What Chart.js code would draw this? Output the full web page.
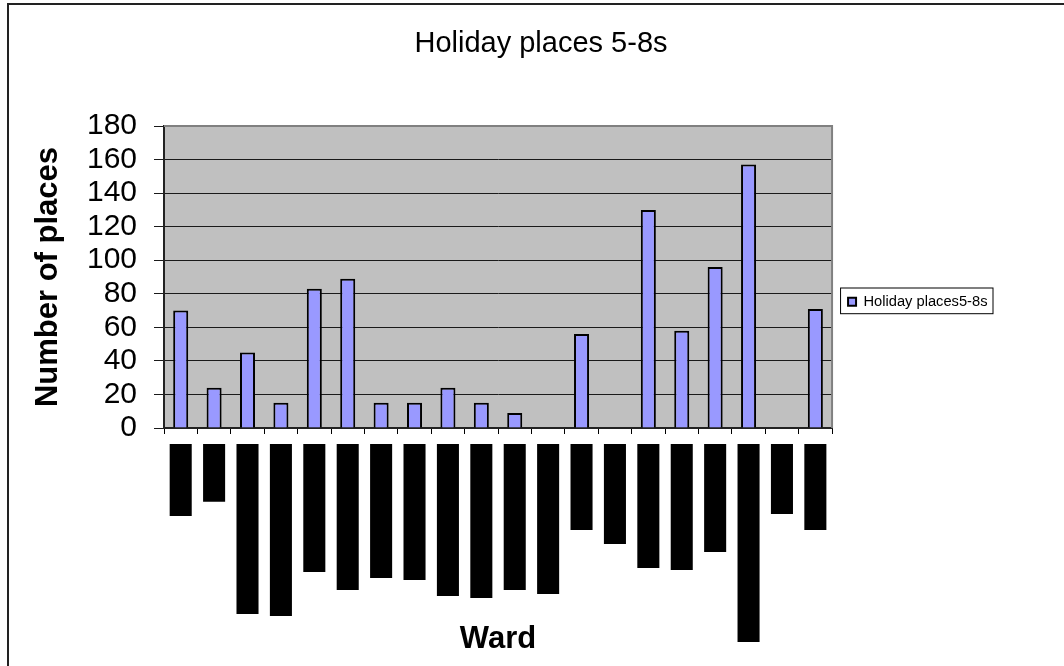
<!DOCTYPE html>
<html>
<head>
<meta charset="utf-8">
<title>Holiday places 5-8s</title>
<script src="https://cdn.jsdelivr.net/npm/chart.js@4.4.0/dist/chart.umd.min.js"></script>
<style>
  html, body { margin: 0; padding: 0; background: #fff; }
  #wrap { width: 1064px; height: 666px; }
</style>
</head>
<body>
<div id="wrap"><canvas id="holidayChart" width="1064" height="666"></canvas></div>
<script>
// categories (ward names are unreadable in the source, they show as black blocks)
const wards = ['Ward 1', 'Ward 2', 'Ward 3', 'Ward 4', 'Ward 5', 'Ward 6', 'Ward 7', 'Ward 8', 'Ward 9', 'Ward 10',
               'Ward 11', 'Ward 12', 'Ward 13', 'Ward 14', 'Ward 15', 'Ward 16', 'Ward 17', 'Ward 18', 'Ward 19', 'Ward 20'];
const holidayPlaces = [70, 24, 45, 15, 83, 89, 15, 15, 24, 15, 9, 0, 56, 0, 130, 58, 96, 157, 0, 71];
const yTicks = [0, 20, 40, 60, 80, 100, 120, 140, 160, 180];

// depth of the blacked-out ward labels under the axis, in axis units
const labelGap = 9.5;
const labelDepth = [52.4, 43.9, 110.9, 112.1, 85.8, 96.6, 89.4, 90.6, 100.1, 101.3,
                    96.6, 98.9, 60.8, 69.1, 83.4, 84.6, 73.9, 127.5, 51.3, 60.8];

const fontFamily = "'Liberation Sans', Arial, Helvetica, sans-serif";

const framePlugin = {
    id: 'frame',
    beforeDraw(chart) {
        const ctx = chart.ctx;
        const area = chart.chartArea;
        ctx.save();
        ctx.fillStyle = '#ffffff';
        ctx.fillRect(0, 0, chart.width, chart.height);
        // outer frame
        ctx.strokeStyle = '#222';
        ctx.lineWidth = 2;
        ctx.beginPath();
        ctx.moveTo(8, chart.height);
        ctx.lineTo(8, 4);
        ctx.lineTo(chart.width, 4);
        ctx.stroke();
        // plot background
        ctx.fillStyle = '#c0c0c0';
        ctx.fillRect(area.left, area.top, area.right - area.left, area.bottom - area.top);
        ctx.restore();
    },
    beforeDatasetsDraw(chart) {
        const ctx = chart.ctx;
        const area = chart.chartArea;
        ctx.save();
        ctx.strokeStyle = '#808080';
        ctx.lineWidth = 2;
        ctx.beginPath();
        ctx.moveTo(area.left, area.top);
        ctx.lineTo(area.right, area.top);
        ctx.lineTo(area.right, area.bottom);
        ctx.stroke();
        ctx.restore();
    },
    afterDraw(chart) {
        const box = chart.legend.legendHitBoxes[0];
        if (!box) return;
        const ctx = chart.ctx;
        ctx.save();
        ctx.strokeStyle = '#000';
        ctx.lineWidth = 1;
        ctx.strokeRect(box.left - 7.5, box.top - 6.5, box.width + 13, box.height + 11);
        ctx.restore();
    }
};

const ctx = document.getElementById('holidayChart').getContext('2d');

const holidayChart = new Chart(ctx, {
    type: 'bar',
    data: {
        labels: wards,
        datasets: [{
            label: 'Holiday places5-8s',
            data: holidayPlaces,
            backgroundColor: '#9999ff',
            borderColor: '#000000',
            borderWidth: 2,
            barPercentage: 0.45,
            categoryPercentage: 1,
            grouped: false
        }, {
            label: 'Ward labels',
            data: labelDepth.map(d => [-labelGap, -d]),
            backgroundColor: '#000000',
            borderWidth: 0,
            barPercentage: 0.66,
            categoryPercentage: 1,
            grouped: false,
            clip: false
        }]
    },
    options: {
        responsive: false,
        animation: false,
        devicePixelRatio: 1,
        layout: {
            padding: { left: 84.5, right: 66.5, top: 0, bottom: 0 }
        },
        scales: {
            x: {
                offset: true,
                grid: {
                    offset: true,
                    drawOnChartArea: false,
                    drawTicks: true,
                    tickLength: 6,
                    color: '#000',
                    lineWidth: 1
                },
                border: { color: '#222', width: 2 },
                ticks: { display: false },
                title: {
                    display: true,
                    text: 'Ward',
                    color: '#000',
                    font: { family: fontFamily, size: 31, weight: 'bold' },
                    padding: { top: 0, bottom: 8 }
                },
                afterFit: function (scale) {
                    scale.height = 238;
                }
            },
            y: {
                min: 0,
                max: 180,
                afterBuildTicks: function (scale) {
                    scale.ticks = yTicks.map(v => ({ value: v }));
                },
                ticks: {
                    autoSkip: false,
                    color: '#000',
                    padding: 17,
                    font: { family: fontFamily, size: 30 }
                },
                grid: {
                    color: '#1a1a1a',
                    lineWidth: 1,
                    tickLength: 10
                },
                border: { color: '#222', width: 2 },
                title: {
                    display: true,
                    text: 'Number of places',
                    color: '#000',
                    font: { family: fontFamily, size: 31, weight: 'bold' },
                    padding: { top: -55, bottom: 0 }
                },
                afterFit: function (scale) {
                    scale.width = 164 - 84.5;
                }
            }
        },
        plugins: {
            title: {
                display: true,
                text: 'Holiday places 5-8s',
                color: '#000',
                font: { family: fontFamily, size: 29, weight: 'normal' },
                padding: { top: 27, bottom: 64.2 }
            },
            legend: {
                position: 'right',
                align: 'start',
                title: {
                    display: true,
                    text: '',
                    font: { size: 10 },
                    padding: { top: 266.5, bottom: 0 }
                },
                labels: {
                    boxWidth: 8,
                    boxHeight: 8,
                    padding: 16,
                    color: '#000',
                    font: { family: fontFamily, size: 14.7 },
                    filter: item => item.datasetIndex === 0
                }
            },
            tooltip: { enabled: false }
        }
    },
    plugins: [framePlugin]
});
</script>
</body>
</html>
